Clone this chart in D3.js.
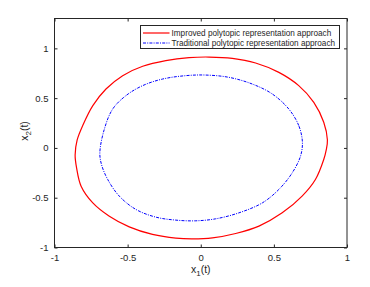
<!DOCTYPE html>
<html>
<head>
<meta charset="utf-8">
<script src="https://cdn.jsdelivr.net/npm/d3@7"></script>
<style>
  body { margin: 0; background: #fff; }
  text { font-family: "Liberation Sans", Arial, sans-serif; fill: #262626; }
</style>
</head>
<body>
<div id="chart"></div>
<script>
// values
const xTicks = [-1, -0.5, 0, 0.5, 1];
const yTicks = [-1, -0.5, 0, 0.5, 1];

// improved approach, outer red curve (x1, x2)
const improved = [
  [0.866, 0.08], [0.841, 0.258], [0.773, 0.458], [0.67, 0.626], [0.534, 0.759],
  [0.375, 0.853], [0.216, 0.9], [0.057, 0.913], [-0.08, 0.907], [-0.239, 0.877],
  [-0.397, 0.82], [-0.534, 0.726], [-0.648, 0.592], [-0.738, 0.425], [-0.807, 0.225],
  [-0.845, 0.08], [-0.859, -0.07], [-0.849, -0.2], [-0.818, -0.384], [-0.738, -0.552],
  [-0.625, -0.686], [-0.489, -0.793], [-0.33, -0.869], [-0.17, -0.906], [-0.057, -0.913],
  [0.08, -0.903], [0.239, -0.859], [0.398, -0.785], [0.557, -0.652], [0.693, -0.484],
  [0.784, -0.317], [0.841, -0.116], [0.858, -0.02]
];

// traditional approach, inner blue curve
const traditional = [
  [0.695, 0.06], [0.67, 0.225], [0.602, 0.391], [0.489, 0.542], [0.352, 0.642],
  [0.193, 0.709], [0.034, 0.732], [-0.102, 0.726], [-0.261, 0.692], [-0.397, 0.626],
  [-0.511, 0.526], [-0.602, 0.391], [-0.659, 0.19], [-0.69, -0.05], [-0.678, -0.17],
  [-0.636, -0.317], [-0.557, -0.484], [-0.443, -0.618], [-0.307, -0.695], [-0.17, -0.725],
  [-0.034, -0.732], [0.102, -0.712], [0.261, -0.652], [0.421, -0.552], [0.534, -0.417],
  [0.625, -0.251], [0.682, -0.083]
];

const legendLabels = [
  "Improved polytopic representation approach",
  "Traditional  polytopic representation approach"
];

const width = 370, height = 287;
const plotLeft = 54.5, plotRight = 347, plotTop = 18.5, plotBottom = 247.5;

const x = d3.scaleLinear().domain([-1, 1]).range([plotLeft, plotRight]);
const y = d3.scaleLinear().domain([-1, 1.3]).range([plotBottom, plotTop]);

const svg = d3.select("#chart").append("svg")
    .attr("width", width)
    .attr("height", height);

// the two curves
const line = d3.line()
    .x(d => x(d[0]))
    .y(d => y(d[1]))
    .curve(d3.curveCatmullRomClosed);

svg.append("path")
    .datum(improved)
    .attr("d", line)
    .attr("fill", "none")
    .attr("stroke", "#ff0000")
    .attr("stroke-width", 1.2);

svg.append("path")
    .datum(traditional)
    .attr("d", line)
    .attr("fill", "none")
    .attr("stroke", "#0000ff")
    .attr("stroke-width", 1)
    .attr("stroke-dasharray", "3,1.2,1,1.2");

// axes, matlab box style with inward ticks
const axisColor = "#262626";
const tickLen = 3;
const fmt = d => String(d);

const styleAxis = g => {
  g.select(".domain").remove();
  g.selectAll("line").attr("stroke", axisColor);
  g.selectAll("text").style("font-size", "9.5px").attr("fill", axisColor);
};

svg.append("g")
    .attr("transform", `translate(0,${plotBottom})`)
    .call(d3.axisBottom(x).tickValues(xTicks).tickFormat(fmt).tickSizeInner(-tickLen).tickPadding(7))
    .call(styleAxis);

svg.append("g")
    .attr("transform", `translate(0,${plotTop})`)
    .call(d3.axisTop(x).tickValues(xTicks).tickFormat("").tickSizeInner(-tickLen))
    .call(styleAxis);

svg.append("g")
    .attr("transform", `translate(${plotLeft},0)`)
    .call(d3.axisLeft(y).tickValues(yTicks).tickFormat(fmt).tickSizeInner(-tickLen).tickPadding(6))
    .call(styleAxis);

svg.append("g")
    .attr("transform", `translate(${plotRight},0)`)
    .call(d3.axisRight(y).tickValues(yTicks).tickFormat("").tickSizeInner(-tickLen))
    .call(styleAxis);

svg.append("rect")
    .attr("x", plotLeft).attr("y", plotTop)
    .attr("width", plotRight - plotLeft).attr("height", plotBottom - plotTop)
    .attr("fill", "none")
    .attr("stroke", axisColor)
    .attr("stroke-width", 1);

// axis titles
const xt = svg.append("text")
    .attr("x", (plotLeft + plotRight) / 2)
    .attr("y", 273)
    .attr("text-anchor", "middle")
    .style("font-size", "10.5px");
xt.append("tspan").text("x");
xt.append("tspan").attr("dy", 3).style("font-size", "8px").text("1");
xt.append("tspan").attr("dy", -3).text("(t)");

const yt = svg.append("text")
    .attr("transform", `translate(28,${(plotTop + plotBottom) / 2 - 2}) rotate(-90)`)
    .attr("text-anchor", "middle")
    .style("font-size", "10.5px");
yt.append("tspan").text("x");
yt.append("tspan").attr("dy", 3).style("font-size", "8px").text("2");
yt.append("tspan").attr("dy", -3).text("(t)");

// legend
const lg = svg.append("g");
lg.append("rect")
    .attr("x", 140.5).attr("y", 25.5)
    .attr("width", 199).attr("height", 23)
    .attr("fill", "#fff")
    .attr("stroke", axisColor)
    .attr("stroke-width", 1);

const legendStyles = [
  { color: "#ff0000", dash: null, w: 1.2 },
  { color: "#0000ff", dash: "3,1.2,1,1.2", w: 1 }
];

legendLabels.forEach((label, i) => {
  const ly = 33 + i * 10;
  lg.append("line")
      .attr("x1", 143).attr("x2", 169.5)
      .attr("y1", ly).attr("y2", ly)
      .attr("stroke", legendStyles[i].color)
      .attr("stroke-width", legendStyles[i].w)
      .attr("stroke-dasharray", legendStyles[i].dash);
  lg.append("text")
      .attr("x", 171.5)
      .attr("y", ly + 3)
      .style("font-size", "8.2px")
      .attr("fill", "#000")
      .text(label);
});
</script>
</body>
</html>
